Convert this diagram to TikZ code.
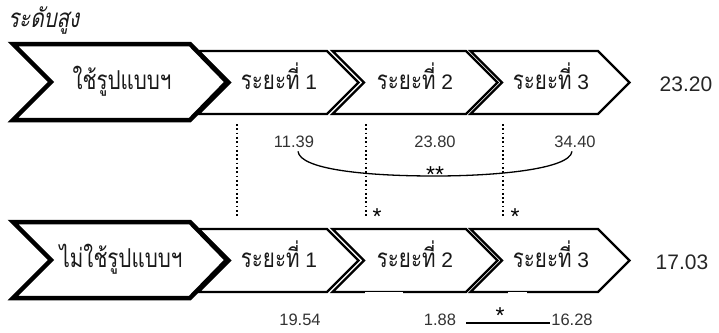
\documentclass[tikz,border=0pt]{standalone}
\usepackage{fontspec}
\setmainfont{Liberation Sans}
\newfontfamily\thaifont[Script=Thai,FakeStretch=0.79]{Loma}
\newfontfamily\thaiit[Script=Thai,FakeSlant=0.2,FakeStretch=0.79]{Loma}
\newcommand\mychev[4]{% #1 notch x, #2 shoulder x, #3 top y, #4 bottom y
  \draw[chev] ({#1-((#4)-(#3))/2},#3) -- (#2,#3) -- ({#2+((#4)-(#3))/2},{(#3+#4)/2}) -- (#2,#4) -- ({#1-((#4)-(#3))/2},#4) -- (#1,{(#3+#4)/2}) -- cycle;}
\newcommand\thaisz{\fontsize{26}{30}\selectfont}
\begin{document}
\begin{tikzpicture}[x=1pt,y=-1pt,
  bigchev/.style={line width=4.5pt, line join=miter, draw=black},
  chev/.style={line width=2.4pt, line join=miter, draw=black},
  dotline/.style={line width=1.7pt, dash pattern=on 1.7pt off 2.6pt},
  thailabel/.style={font=\fontsize{21}{24}\selectfont, text=black!90, anchor=base, inner sep=0pt},
  num/.style={font=\fontsize{16.5}{19}\selectfont, text=black!80, anchor=base, inner sep=1pt},
  bignum/.style={font=\fontsize{21}{24}\selectfont, text=black!85, anchor=base, inner sep=0pt},
  star/.style={font=\fontsize{23}{26}\selectfont, anchor=base, inner sep=0pt},
  link/.style={line width=1.3pt, draw=black},
]
\useasboundingbox (0,0) rectangle (719,332);
% title
\node[anchor=base west, inner sep=0pt, text=black!90, font=\thaiit\thaisz] (title) at (8,27) {ระดับสูง};
% top row
\draw[bigchev] (13,44) -- (190,44) -- (227,82) -- (190,120) -- (13,120) -- (51,82) -- cycle;
\mychev{230}{327}{51}{114}
\mychev{364}{466}{51}{114}
\mychev{502}{598}{51}{114}
\node[thailabel, font=\thaifont\thaisz] (tbig) at (122,89) {ใช้รูปแบบฯ};
\node[thailabel] (t1) at (279,89) {{\thaifont\thaisz ระยะที่} 1};
\node[thailabel] (t2) at (415,89) {{\thaifont\thaisz ระยะที่} 2};
\node[thailabel] (t3) at (551,89) {{\thaifont\thaisz ระยะที่} 3};
\node[bignum] (n2320) at (686,91) {23.20};
% bottom row
\draw[bigchev] (13,222) -- (190,222) -- (227,260) -- (190,298) -- (13,298) -- (51,260) -- cycle;
\mychev{230}{327}{229}{292}
\mychev{364}{466}{229}{292}
\mychev{502}{598}{229}{292}
\draw[white, line width=2pt] (365,292.8) -- (403,292.8);
\draw[white, line width=2pt] (508,292.8) -- (527,292.8);
\node[thailabel, font=\thaifont\thaisz] (bbig) at (121,267) {ไม่ใช้รูปแบบฯ};
\node[thailabel] (b1) at (279,267) {{\thaifont\thaisz ระยะที่} 1};
\node[thailabel] (b2) at (415,267) {{\thaifont\thaisz ระยะที่} 2};
\node[thailabel] (b3) at (551,267) {{\thaifont\thaisz ระยะที่} 3};
\node[bignum] (n1703) at (682,269) {17.03};
% dotted lines
\coordinate (d1a) at (237,124); \coordinate (d1b) at (237,218);
\coordinate (d2a) at (366,124); \coordinate (d2b) at (366,217);
\coordinate (d3a) at (503,124); \coordinate (d3b) at (503,217);
\draw[dotline] (d1a) -- (d1b);
\draw[dotline] (d2a) -- (d2b);
\draw[dotline] (d3a) -- (d3b);
\node[star] (s2) at (377,224) {*};
\node[star] (s3) at (515,224) {*};
% top numbers
\node[num] (n11) at (294,147) {11.39};
\node[num] (n2380) at (435,147) {23.80};
\node[num] (n3440) at (575,147) {34.40};
\coordinate (cm) at (435,176);
\draw[link] ([xshift=4pt,yshift=-3pt]n11.south) .. controls +(2,18) and +(-70,0) .. (cm) .. controls +(60,0) and +(-2,18) .. ([xshift=-3pt,yshift=-3pt]n3440.south);
\node[star] (s22) at (435,182) {**};
% bottom numbers
\node[num] (n1954) at (300,325) {19.54};
\node[num] (n188) at (440,325) {1.88};
\node[num] (n1628) at (572,325) {16.28};
\draw[link] ([xshift=9pt,yshift=2pt]n188.base east) -- ([yshift=2pt]n1628.base west);
\node[star] (s4) at (500,323) {*};
\end{tikzpicture}
\end{document}
